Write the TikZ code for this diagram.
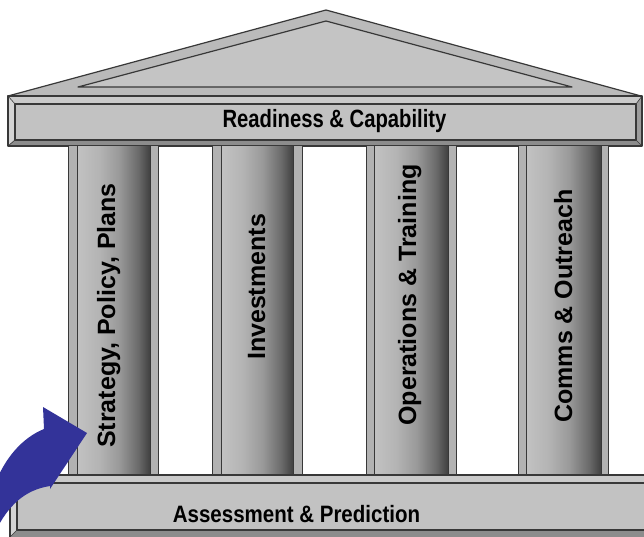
\documentclass[tikz,border=0pt]{standalone}
\usepackage{fontspec}
\setmainfont{Liberation Sans}
\newfontfamily\topfont[FakeStretch=0.81]{Liberation Sans}
\newfontfamily\basefont[FakeStretch=0.865]{Liberation Sans}
\definecolor{stone}{HTML}{C2C2C2}
\definecolor{roofouter}{HTML}{BABABA}
\definecolor{rooffill}{HTML}{C4C4C4}
\definecolor{bevlight}{HTML}{CACACA}
\definecolor{bevlighter}{HTML}{D4D4D4}
\definecolor{bevmid}{HTML}{9C9C9C}
\definecolor{bevdark}{HTML}{8C8C8C}
\definecolor{edge}{HTML}{383838}
\definecolor{colframe}{HTML}{B2B2B2}
\definecolor{arrowblue}{HTML}{333399}
\definecolor{cylA}{HTML}{C2C2C2}
\definecolor{cylB}{HTML}{B4B4B4}
\definecolor{cylC}{HTML}{999999}
\definecolor{cylD}{HTML}{6A6A6A}
\definecolor{cylE}{HTML}{404040}
\pgfdeclarehorizontalshading{cylshade}{100bp}{color(0bp)=(cylA); color(25bp)=(cylA); color(40bp)=(cylB); color(54bp)=(cylC); color(67bp)=(cylD); color(75bp)=(cylE); color(100bp)=(cylE)}
\tikzset{
  edgeline/.style={draw=edge, line width=1.2pt},
  thinedge/.style={draw=edge, line width=0.6pt},
  colframestyle/.style={fill=colframe, draw=edge, line width=1pt},
  cylstyle/.style={shading=cylshade, draw=edge, line width=1pt},
  coltext/.style={font=\fontsize{25}{30}\selectfont\bfseries, rotate=90, anchor=base, inner sep=0pt},
  toptext/.style={font=\topfont\fontsize{25}{30}\selectfont\bfseries, anchor=base, inner sep=0pt},
  basetext/.style={font=\basefont\fontsize{23.7}{28}\selectfont\bfseries, anchor=base, inner sep=0pt}
}
\begin{document}
\begin{tikzpicture}[x=1pt,y=-1pt,line join=round]
\useasboundingbox (0,0) rectangle (644,537);
\clip (0,0) rectangle (644,537);
\fill[white] (0,0) rectangle (644,537);
% roof
\path[fill=roofouter, edgeline] (8,96) -- (326,10) -- (641,96) -- cycle;
\path[fill=rooffill, edgeline] (78,87) -- (326,21) -- (572,87) -- cycle;
% entablature
\fill[bevlight] (8,96) -- (642,96) -- (636,104) -- (15,104) -- cycle;
\fill[bevlighter] (8,96) -- (15,104) -- (15,140) -- (8,146) -- cycle;
\fill[bevdark] (8,146) -- (15,140) -- (636,140) -- (642,146) -- cycle;
\fill[bevmid] (642,96) -- (636,104) -- (636,140) -- (642,146) -- cycle;
\fill[stone] (15,104) rectangle (636,140);
\draw[thinedge] (8,96) -- (15,104) (642,96) -- (636,104) (8,146) -- (15,140) (642,146) -- (636,140);
\draw[edgeline] (8,96) rectangle (642,146);
\draw[edgeline] (15,104) rectangle (636,140);
\node[toptext] (top) at (334.5,128) {Readiness \& Capability};
% columns
\path[colframestyle] (68,146) rectangle (158,475);
\shadedraw[cylstyle] (77,146) rectangle (150,475);
\path[colframestyle] (212,146) rectangle (302,475);
\shadedraw[cylstyle] (221,146) rectangle (293,475);
\path[colframestyle] (366,146) rectangle (456,475);
\shadedraw[cylstyle] (374,146) rectangle (448,475);
\path[colframestyle] (518,146) rectangle (608,475);
\shadedraw[cylstyle] (526,146) rectangle (601,475);
\node[coltext] (c1) at (115,315.5) {Strategy, Policy, Plans};
\node[coltext] (c2) at (265,287) {Investments};
\node[coltext] (c3) at (416,295) {Operations \& Training};
\node[coltext] (c4) at (572,306) {Comms \& Outreach};
% base
\fill[bevlight] (10,475) -- (660,475) -- (660,483) -- (17,483) -- cycle;
\fill[bevlighter] (10,475) -- (17,483) -- (17,530) -- (10,537) -- cycle;
\fill[bevdark] (10,537) -- (17,530) -- (660,530) -- (660,545) -- (10,545) -- cycle;
\fill[stone] (17,483) rectangle (660,530);
\draw[thinedge] (10,475) -- (17,483) (10,537) -- (17,530);
\draw[edgeline] (10,545) -- (10,475) -- (660,475);
\draw[edgeline] (660,483) -- (17,483) -- (17,530) -- (660,530);
\node[basetext] (bottom) at (296.5,522) {Assessment \& Prediction};
% arrow
\fill[arrowblue] (-5,532) .. controls (8,506) and (24,490) .. (50,486) -- (50,489) -- (87,433) -- (43,407) -- (44,429) .. controls (22,438) and (5,458) .. (-5,484) -- cycle;
\end{tikzpicture}
\end{document}
